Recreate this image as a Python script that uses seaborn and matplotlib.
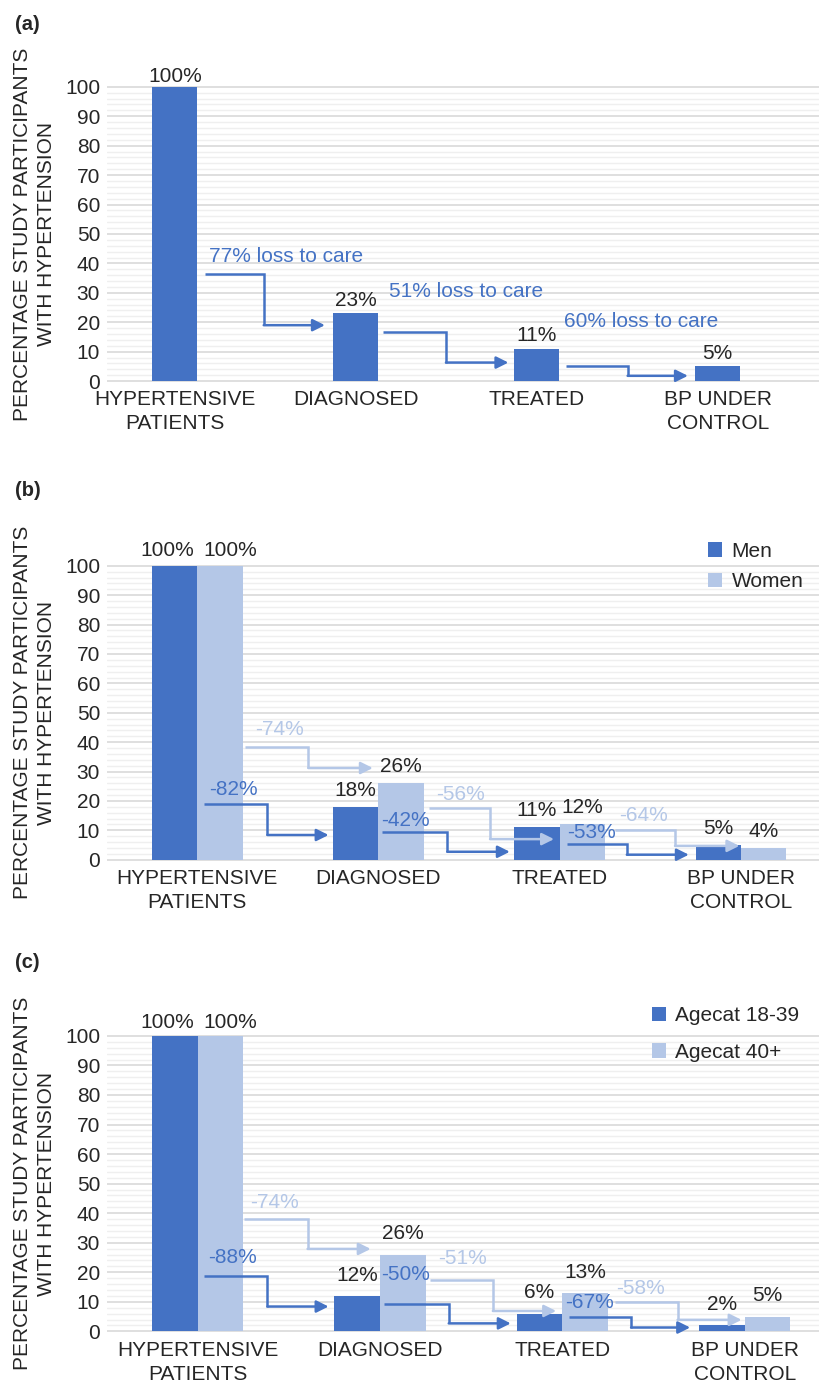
import pandas as pd
import seaborn as sns
import matplotlib.pyplot as plt
from matplotlib.ticker import MultipleLocator
from matplotlib.patches import Patch

# ----------------------------
# Data
# ----------------------------
stages = ["HYPERTENSIVE\nPATIENTS", "DIAGNOSED", "TREATED", "BP UNDER\nCONTROL"]

# (a) all participants
overall = [100, 23, 11, 5]
loss_overall = ["77% loss to care", "51% loss to care", "60% loss to care"]

# (b) by sex
sex_groups = ["Men", "Women"]
men = [100, 18, 11, 5]
women = [100, 26, 12, 4]
loss_men = ["-82%", "-42%", "-53%"]
loss_women = ["-74%", "-56%", "-64%"]

# (c) by age category
age_groups = ["Agecat 18-39", "Agecat 40+"]
age_young = [100, 12, 6, 2]
age_old = [100, 26, 13, 5]
loss_young = ["-88%", "-50%", "-67%"]
loss_old = ["-74%", "-51%", "-58%"]

# ----------------------------
# Layout of the elbow arrows (x start, x elbow, x tip, y start, y end)
# ----------------------------
arrows_a = [(0.164, 0.491, 0.829, 36.5, 19.0), (1.149, 1.498, 1.843, 16.8, 6.3),
            (2.159, 2.502, 2.835, 5.2, 1.8)]
text_a = [(0.191, 42.3), (1.183, 30.5), (2.148, 20.4)]

arrows_b_dark = [(0.038, 0.387, 0.725, 18.8, 8.4), (1.022, 1.380, 1.725, 9.4, 2.7),
                 (2.039, 2.371, 2.713, 5.3, 1.7)]
arrows_b_light = [(0.261, 0.613, 0.969, 38.2, 31.2), (1.278, 1.616, 1.969, 17.7, 7.0),
                  (2.306, 2.637, 2.992, 10.0, 4.7)]
text_b_dark = [(0.068, 23.9), (1.015, 13.2), (2.039, 9.2)]
text_b_light = [(0.317, 44.4), (1.318, 22.2), (2.329, 15.1)]

arrows_c_dark = [(0.036, 0.383, 0.718, 18.7, 8.4), (1.023, 1.377, 1.717, 9.4, 2.7),
                 (2.036, 2.377, 2.701, 5.0, 1.3)]
arrows_c_light = [(0.256, 0.603, 0.949, 38.1, 27.9), (1.273, 1.619, 1.966, 17.4, 6.9),
                  (2.290, 2.632, 2.983, 10.0, 3.9)]
text_c_dark = [(0.060, 25.1), (1.007, 19.3), (2.017, 9.8)]
text_c_light = [(0.286, 43.6), (1.319, 24.6), (2.295, 14.5)]

DARK = "#4472C4"
LIGHT = "#B4C7E7"

sns.set_style("white")
plt.rcParams["font.family"] = ["Liberation Sans", "DejaVu Sans"]


def style_axis(ax, xlim):
    ax.set_xlim(*xlim)
    ax.set_ylim(-0.3, 100.3)
    ax.yaxis.set_major_locator(MultipleLocator(10))
    ax.yaxis.set_minor_locator(MultipleLocator(2))
    ax.grid(which="major", axis="y", color="#d9d9d9", lw=1.2)
    ax.grid(which="minor", axis="y", color="#efefef", lw=1.0)
    ax.set_axisbelow(True)
    for s in ax.spines.values():
        s.set_visible(False)
    ax.tick_params(axis="both", which="both", length=0)
    ax.tick_params(axis="y", pad=5, labelsize=15)
    ax.tick_params(axis="x", pad=6, labelsize=15)
    ax.set_xticks(range(len(stages)), stages, linespacing=1.33)
    ax.set_xlabel("")
    ax.set_ylabel("PERCENTAGE STUDY PARTICIPANTS\nWITH HYPERTENSION", fontsize=15,
                  linespacing=1.35)
    ax.yaxis.set_label_coords(-0.071, 0.5)


def label_bars(ax, series, first_off, off, first_dx=(0, 0)):
    for i, (cont, vals) in enumerate(zip(ax.containers, series)):
        for j, (bar, v) in enumerate(zip(cont, vals)):
            dx = first_dx[i] if j == 0 else 0
            dy = first_off if j == 0 else off
            ax.annotate(f"{v}%", (bar.get_x() + bar.get_width() / 2, bar.get_height()),
                        xytext=(dx, dy), textcoords="offset points",
                        ha="center", va="center", fontsize=15, zorder=5)


def elbow(ax, spec, color):
    x0, xm, x1, y0, y1 = spec
    ax.plot([x0, xm, xm], [y0, y0, y1], color=color, lw=1.8,
            solid_joinstyle="miter", solid_capstyle="butt", zorder=4)
    ax.annotate("", xy=(x1, y1), xytext=(xm, y1),
                arrowprops=dict(arrowstyle="-|>", color=color, lw=1.8,
                                shrinkA=0, shrinkB=0, mutation_scale=18),
                zorder=4)


def loss_text(ax, pos, txt, color, size):
    ax.text(pos[0], pos[1], txt, color=color, fontsize=size, ha="left", va="center", zorder=6)


fig = plt.figure(figsize=(8.2, 13.82), dpi=100)
rows = [(0.7236, 0.2142), (0.3773, 0.2139), (0.0360, 0.2151)]
axes = [fig.add_axes([0.1305, b, 0.8695, h]) for b, h in rows]

# ----------------------------
# (a)
# ----------------------------
ax = axes[0]
df_a = pd.DataFrame({"stage": stages, "value": overall})
sns.barplot(data=df_a, x="stage", y="value", color=DARK, saturation=1, width=0.25,
            errorbar=None, linewidth=0, ax=ax)
style_axis(ax, (-0.375, 3.565))
label_bars(ax, [overall], 7.2, 9.5)
for spec, pos, txt in zip(arrows_a, text_a, loss_overall):
    elbow(ax, spec, DARK)
    loss_text(ax, pos, txt, DARK, 15)

# ----------------------------
# (b) and (c)
# ----------------------------
panels = [
    (axes[1], sex_groups, men, women, (-0.498, 3.437), arrows_b_dark, arrows_b_light,
     text_b_dark, text_b_light, loss_men, loss_women, (10.8, 12.0), (0.8634, 1 - 566.5 / 1382), 0.55),
    (axes[2], age_groups, age_young, age_old, (-0.497, 3.413), arrows_c_dark, arrows_c_light,
     text_c_dark, text_c_light, loss_young, loss_old, (9.6, 15.0), (0.7948, 1 - 1034 / 1382), 0.85),
]
for (ax, groups, s1, s2, xlim, ad, al, td, tl, ld, ll, offs, leg_pos, lsp) in panels:
    df = pd.DataFrame({
        "stage": stages * 2,
        "group": [groups[0]] * len(stages) + [groups[1]] * len(stages),
        "value": s1 + s2,
    })
    sns.barplot(data=df, x="stage", y="value", hue="group", palette=[DARK, LIGHT],
                saturation=1, width=0.5, errorbar=None, linewidth=0, legend=False, ax=ax)
    style_axis(ax, xlim)
    label_bars(ax, [s1, s2], offs[0], offs[1], first_dx=(-5.4, 7.2))
    for spec, pos, txt in zip(al, tl, ll):
        elbow(ax, spec, LIGHT)
        loss_text(ax, pos, txt, LIGHT, 15)
    for spec, pos, txt in zip(ad, td, ld):
        elbow(ax, spec, DARK)
        loss_text(ax, pos, txt, DARK, 15)
    handles = [Patch(facecolor=DARK, edgecolor="none"), Patch(facecolor=LIGHT, edgecolor="none")]
    ax.legend(handles, groups, loc="center left", bbox_to_anchor=leg_pos,
              bbox_transform=fig.transFigure, frameon=False, fontsize=15,
              handlelength=0.68, handleheight=0.68, handletextpad=0.45,
              labelspacing=lsp, borderpad=0, borderaxespad=0)

for lbl, ypx in zip(["(a)", "(b)", "(c)"], [25, 490, 962]):
    fig.text(15 / 820, 1 - ypx / 1382, lbl, fontsize=14.5, fontweight="bold",
             ha="left", va="center")

fig.savefig("out.png", dpi=100)
